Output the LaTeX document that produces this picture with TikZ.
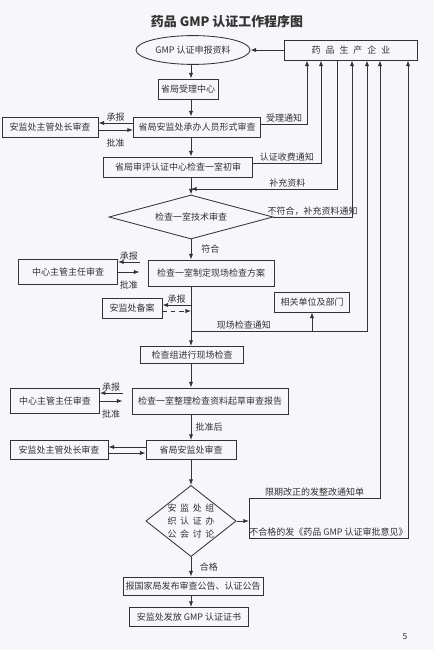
\documentclass[tikz,border=0pt]{standalone}
\usepackage{fontspec}
\setmainfont{Noto Sans CJK SC}
\usetikzlibrary{positioning, arrows.meta, shapes.geometric, calc}
\definecolor{fInk}{HTML}{333333}
\definecolor{fPaper}{HTML}{F7F6FA}

\begin{document}
\begin{tikzpicture}[
  x=0.025cm, y=-0.025cm,
  every node/.style={font=\fontsize{6.4}{8}\selectfont, text=fInk},
  box/.style={draw=fInk, line width=0.6pt, inner sep=1pt, align=center},
  link/.style={draw=fInk, line width=0.6pt},
  arr/.style={link, -{Latex[length=4pt, width=3pt]}},
  lbl/.style={inner sep=1pt},
]
  \fill[fPaper] (0,0) rectangle (434,650);
  \useasboundingbox (0,0) rectangle (434,650);

  % axis and riser positions
  \coordinate (ax) at (191,0);
  \coordinate (v1) at (307,0);
  \coordinate (v2) at (321,0);
  \coordinate (v3) at (337,0);
  \coordinate (v4) at (352,0);
  \coordinate (v5) at (367,0);
  \coordinate (v6) at (380,0);
  \coordinate (v7) at (408,0);

  % title
  \node[font=\fontsize{9.2}{11}\selectfont\bfseries] (title) at (227,22) {药品 GMP 认证工作程序图};

  % main column
  \node[box, ellipse, minimum width=2.85cm, minimum height=0.72cm] (shenbao) at (193,50) {GMP 认证申报资料};
  \node[box, minimum width=3.32cm, minimum height=0.5cm] (qiye) at (351,50)
    {药\hspace{3.5pt}品\hspace{3.5pt}生\hspace{3.5pt}产\hspace{3.5pt}企\hspace{3.5pt}业};
  \node[box, minimum width=1.5cm, minimum height=0.5cm] (shouli) at (188,89) {省局受理中心};
  \node[box, minimum width=3.18cm, minimum height=0.5cm] (xingshi) at (197,127) {省局安监处承办人员形式审查};
  \node[box, minimum width=3.72cm, minimum height=0.5cm] (chushen) at (178,167) {省局审评认证中心检查一室初审};
  \node[box, diamond, aspect=3.7, inner sep=0pt, minimum width=4.1cm, minimum height=1.1cm] (jishu) at (191,217) {检查一室技术审查};
  \node[box, minimum width=3.15cm, minimum height=0.65cm] (fangan) at (211,273) {检查一室制定现场检查方案};
  \node[box, minimum width=2.58cm, minimum height=0.43cm] (xianchang) at (192,355) {检查组进行现场检查};
  \node[box, minimum width=3.9cm, minimum height=0.65cm] (baogao) at (210,401) {检查一室整理检查资料起草审查报告};
  \node[box, minimum width=2.25cm, minimum height=0.48cm] (anjian) at (191,450) {省局安监处审查};
  \node[box, diamond, aspect=1.27, inner sep=0pt, minimum width=2.25cm, minimum height=1.78cm,
        font=\fontsize{6.4}{9.3}\selectfont] (taolun) at (191,521)
    {安\hspace{2.5pt}监\hspace{2.5pt}处\hspace{2.5pt}组\\织\hspace{2.5pt}认\hspace{2.5pt}证\hspace{2.5pt}办\\公\hspace{2.5pt}会\hspace{2.5pt}讨\hspace{2.5pt}论};
  \node[box, minimum width=3.5cm, minimum height=0.45cm] (guojia) at (193,586) {报国家局发布审查公告、认证公告};
  \node[box, minimum width=2.98cm, minimum height=0.48cm] (zhengshu) at (189,617) {安监处发放 GMP 认证证书};

  % side boxes
  \node[box, minimum width=2.4cm, minimum height=0.5cm] (chuzhang1) at (50,127) {安监处主管处长审查};
  \node[box, minimum width=2.48cm, minimum height=0.62cm] (zhuren1) at (68,272) {中心主管主任审查};
  \node[box, minimum width=1.5cm, minimum height=0.5cm] (beian) at (132,308) {安监处备案};
  \node[box, minimum width=1.88cm, minimum height=0.5cm] (xiangguan) at (312,302) {相关单位及部门};
  \node[box, minimum width=2.22cm, minimum height=0.62cm] (zhuren2) at (55,401) {中心主管主任审查};
  \node[box, minimum width=2.45cm, minimum height=0.48cm] (chuzhang2) at (59,450) {安监处主管处长审查};

  \node[font=\fontsize{6}{7}\selectfont] (pagenum) at (405,637) {5};

  % main flow
  \draw[arr] (qiye.west) -- (shenbao.east);
  \draw[arr] (shenbao.south -| ax) -- (shouli.north -| ax);
  \draw[arr] (shouli.south -| ax) -- (xingshi.north -| ax);
  \draw[arr] (xingshi.south -| ax) -- (chushen.north -| ax);
  \draw[arr] (chushen.south -| ax) -- (jishu.north);
  \draw[arr] (jishu.south) -- (fangan.north -| ax) node[lbl, midway, right=6pt] {符合};
  \draw[arr] (fangan.south -| ax) -- (xianchang.north -| ax);
  \draw[arr] (xianchang.south -| ax) -- (baogao.north -| ax);
  \draw[arr] (baogao.south -| ax) -- (anjian.north -| ax) node[lbl, midway, right=2pt] {批准后};
  \draw[arr] (anjian.south -| ax) -- (taolun.north);
  \draw[arr] (taolun.south) -- (guojia.north -| ax) node[lbl, midway, right=5pt] {合格};
  \draw[arr] (guojia.south -| ax) -- (zhengshu.north -| ax);

  % side reviews
  \draw[arr] ($(xingshi.west)+(0,-4)$) -- ($(chuzhang1.east)+(0,-4)$) node[lbl, midway, above] {承报};
  \draw[arr] ($(chuzhang1.east)+(0,3)$) -- ($(xingshi.west)+(0,3)$) node[lbl, midway, below=5pt] {批准};
  \draw[arr] ($(fangan.west)+(-8,-11)$) -- ($(zhuren1.east)+(0,-10)$) node[lbl, midway, above] {承报};
  \draw[arr] (zhuren1.east) -- ($(fangan.west)+(-8,-1)$) node[lbl, midway, below=5pt] {批准};
  \draw[arr] ($(beian.east -| ax)+(0,-3)$) -- ($(beian.east)+(0,-3)$) node[lbl, midway, above] {承报};
  \draw[arr, dashed] ($(beian.east)+(0,3)$) -- ($(beian.east -| ax)+(0,3)$);
  \draw[arr] ($(baogao.west)+(-9,-8)$) -- ($(zhuren2.east)+(0,-8)$) node[lbl, midway, above] {承报};
  \draw[arr] (zhuren2.east) -- ($(baogao.west)+(-9,0)$) node[lbl, midway, below=5pt] {批准};
  \draw[arr] ($(anjian.west)+(0,-3)$) -- ($(chuzhang2.east)+(0,-3)$);
  \draw[arr] ($(chuzhang2.east)+(0,3)$) -- ($(anjian.west)+(0,3)$);

  % notices to the company
  \draw[arr] ($(xingshi.east)+(0,-3)$) -| (qiye.south -| v1) node[lbl, pos=0.25, above] {受理通知};
  \draw[arr] ($(chushen.east)+(0,-4)$) -| (qiye.south -| v2) node[lbl, pos=0.25, above] {认证收费通知};
  \coordinate (bc) at (191,189);
  \draw[arr] (qiye.south -| v3) |- (bc) node[lbl, pos=0.67, above] {补充资料};
  \draw[arr] (jishu.east) -| (qiye.south -| v4) node[lbl, pos=0.25, above] {不符合，补充资料通知};
  \coordinate (xc) at (191,331);
  \draw[arr] (xc) -| (qiye.south -| v5) node[lbl, pos=0.15, above] {现场检查通知};
  \draw[arr] (xc -| xiangguan.south) -- (xiangguan.south);

  % discussion results
  \coordinate (brkT) at (249,498);
  \coordinate (brkB) at (249,538);
  \draw[link] (brkT) -- (brkB);
  \draw[arr] (taolun.east) -- (taolun.east -| brkT);
  \draw[arr] (brkT) -| (qiye.south -| v6) node[lbl, pos=0.25, above] {限期改正的发整改通知单};
  \draw[arr] (brkB) -| (qiye.south -| v7) node[lbl, pos=0.25, above] {不合格的发《药品 GMP 认证审批意见》};
\end{tikzpicture}
\end{document}
